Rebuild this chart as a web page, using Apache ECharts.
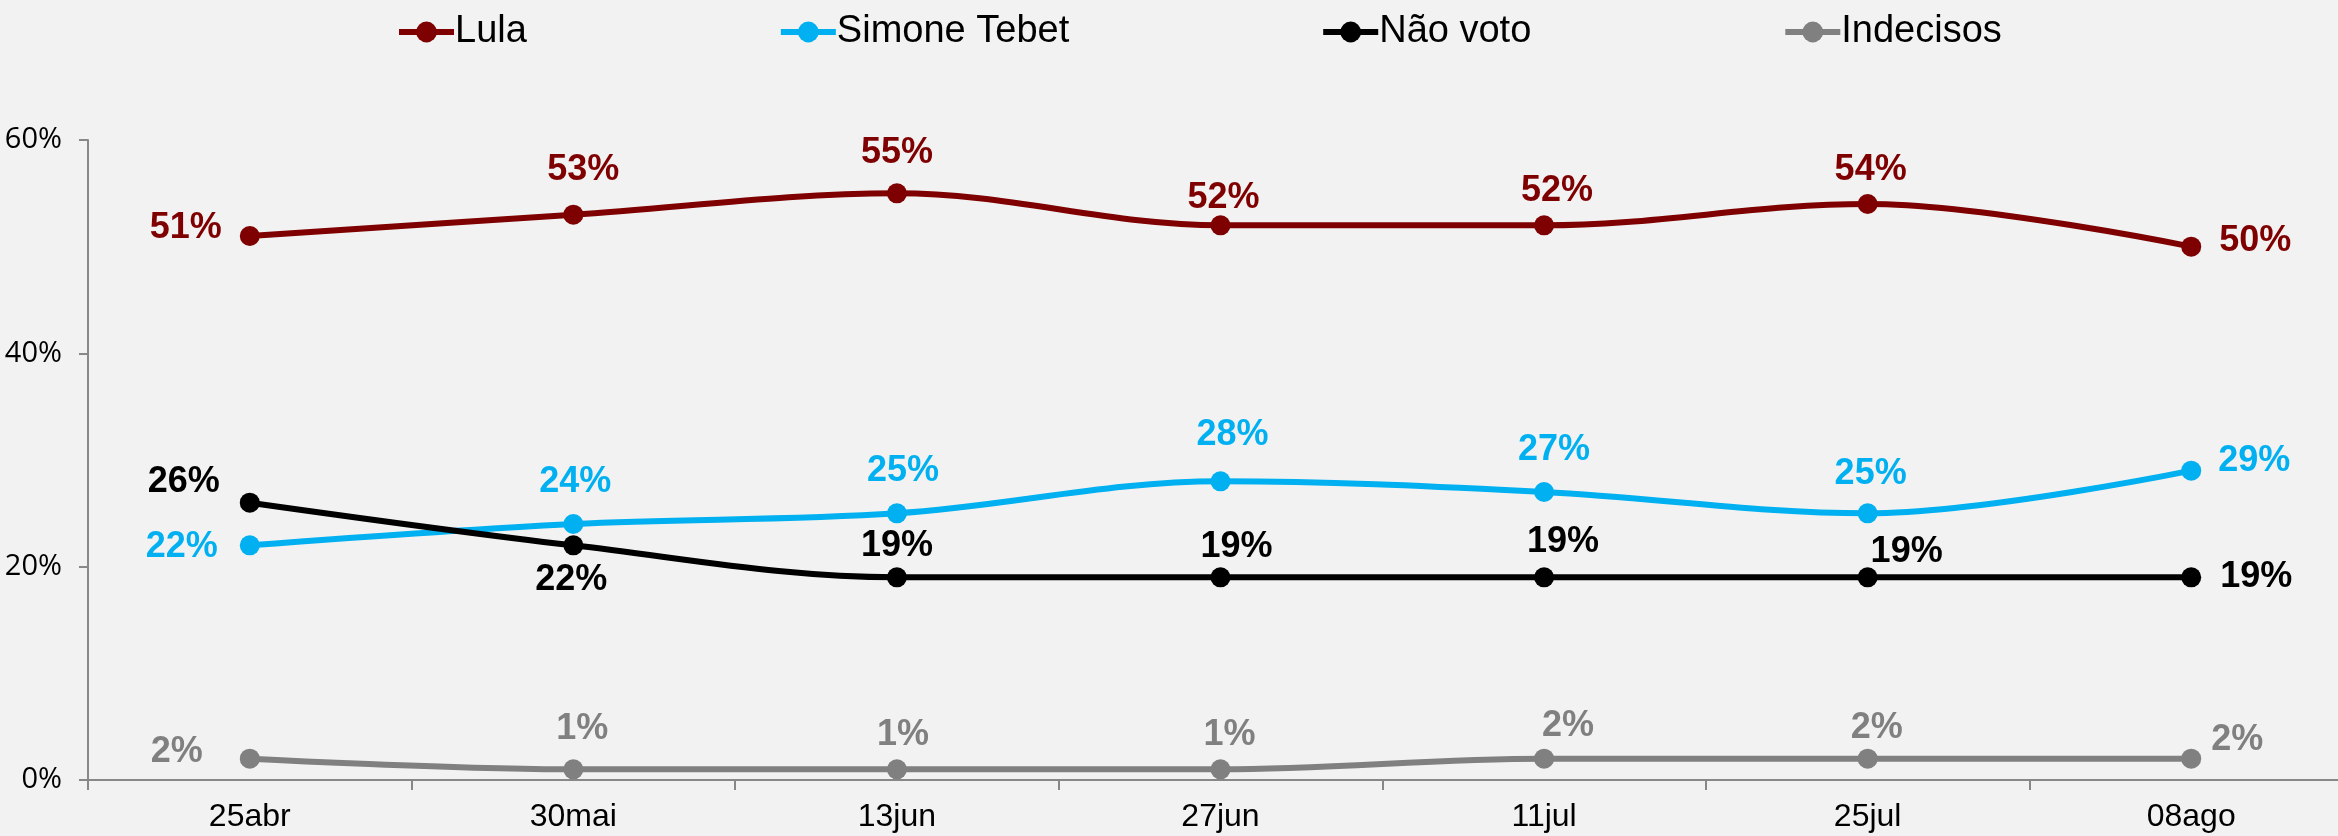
<!DOCTYPE html>
<html>
<head>
<meta charset="utf-8">
<title>Lula x Simone Tebet</title>
<script src="https://cdn.jsdelivr.net/npm/echarts@6/dist/echarts.min.js"></script>
<style>
    html, body { margin: 0; padding: 0; background: #f2f2f2; }
    #chart { width: 2338px; height: 836px; }
</style>
</head>
<body>
<div id="chart"></div>
<script>
    // dados
    var dates = ['25abr', '30mai', '13jun', '27jun', '11jul', '25jul', '08ago'];
    var lula = [51, 53, 55, 52, 52, 54, 50];
    var simone = [22, 24, 25, 28, 27, 25, 29];
    var naoVoto = [26, 22, 19, 19, 19, 19, 19];
    var indecisos = [2, 1, 1, 1, 2, 2, 2];
    var yTicks = [0, 20, 40, 60];

    // deslocamento dos rótulos (px, centro do rótulo - centro do ponto)
    var lulaOff = [[-64, -8], [10, -45], [0, -40], [3, -27], [13, -34], [3, -34], [64, -6]];
    var simoneOff = [[-68, 2], [2, -42], [6, -42], [12, -46], [10, -42], [3, -39], [63, -10]];
    var naoOff = [[-66, -21], [-2, 35], [0, -31], [16, -30], [19, -35], [39, -25], [65, 0]];
    var indOff = [[-73, -7], [9, -40], [6, -34], [9, -34], [24, -33], [9, -31], [46, -19]];

    var FONT = '"Liberation Sans", Arial, sans-serif';

    function buildSeries(name, values, color, offs) {
        return {
            name: name,
            type: 'line',
            smooth: 0.35,
            symbol: 'circle',
            symbolSize: 20,
            lineStyle: { width: 6, color: color },
            itemStyle: { color: color },
            data: values.map(function (v, i) {
                return {
                    value: v,
                    label: { offset: offs[i] }
                };
            }),
            label: {
                show: true,
                position: 'inside',
                formatter: '{c}%',
                color: color,
                fontFamily: FONT,
                fontWeight: 'bold',
                fontSize: 36
            },
            emphasis: { disabled: true }
        };
    }

    var myChart = echarts.init(document.getElementById('chart'));
    var option = {
        backgroundColor: '#f2f2f2',
        animation: false,
        legend: {
            left: 391,
            top: 8,
            itemGap: 251,
            itemWidth: 55,
            itemHeight: 26,
            lineStyle: { width: 6 },
            textStyle: { color: '#000', fontFamily: FONT, fontSize: 38, padding: [0, 0, 0, -4] },
            data: ['Lula', 'Simone Tebet', 'Não voto', 'Indecisos']
        },
        grid: { left: 88, right: -15, top: 140, bottom: 56, outerBoundsMode: 'none', containLabel: false },
        xAxis: {
            type: 'category',
            data: dates,
            boundaryGap: true,
            axisLine: { lineStyle: { color: '#888', width: 2 } },
            axisTick: { show: true, length: 10, lineStyle: { color: '#888', width: 2 } },
            axisLabel: { color: '#000', fontFamily: FONT, fontSize: 32, margin: 21 }
        },
        yAxis: {
            type: 'value',
            min: yTicks[0],
            max: yTicks[yTicks.length - 1],
            interval: yTicks[1] - yTicks[0],
            splitLine: { show: false },
            axisLine: { show: true, lineStyle: { color: '#888', width: 2 } },
            axisTick: { show: true, length: 9, lineStyle: { color: '#888', width: 2 } },
            axisLabel: {
                formatter: '{value}%',
                color: '#000',
                fontFamily: '"Open Sans", sans-serif',
                fontSize: 29,
                margin: 26
            }
        },
        series: [
            buildSeries('Lula', lula, '#7f0000', lulaOff),
            buildSeries('Simone Tebet', simone, '#00b0f0', simoneOff),
            buildSeries('Não voto', naoVoto, '#000000', naoOff),
            buildSeries('Indecisos', indecisos, '#808080', indOff)
        ]
    };
    myChart.setOption(option);
</script>
</body>
</html>
